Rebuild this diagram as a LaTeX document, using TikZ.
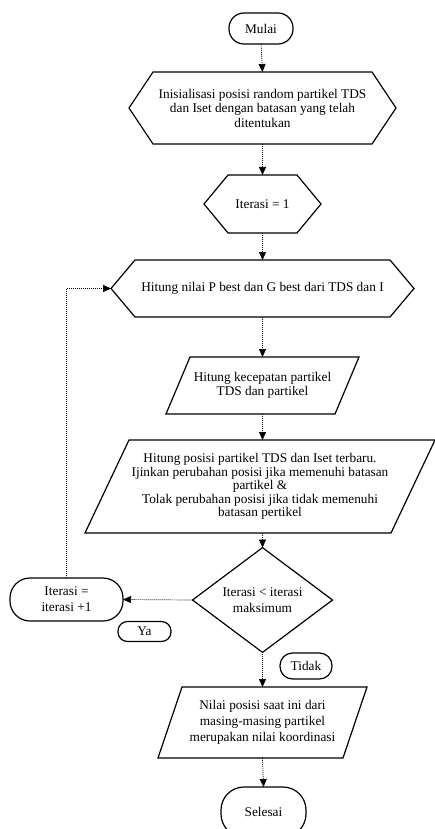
\documentclass[tikz,border=0pt]{standalone}
\usepackage{fontspec}
\setmainfont{Liberation Serif}
\usetikzlibrary{arrows.meta,shapes.geometric}
\begin{document}
\begin{tikzpicture}[x=1pt,y=1pt,
  txt/.style={inner sep=0pt, outer sep=0pt, align=center, font=\fontsize{13.3}{14.5}\selectfont},
  outl/.style={draw=black, line width=1.2pt, line join=miter},
  term/.style={txt, draw=black, line width=1.2pt, rounded corners=#1},
  conn/.style={draw=black, dash pattern=on 1pt off 1pt, line width=0.7pt, -{Triangle[length=8pt,width=7pt]}}]
\useasboundingbox (0,0) rectangle (435,-829);
\fill[white] (0,0) rectangle (435,-829);
\clip (0,0) rectangle (435,-829);

% terminals
\node[term=15pt, minimum width=64pt, minimum height=31pt] (start) at (261,-28.5) {Mulai};
\node[term=23pt, minimum width=85pt, minimum height=50pt] (stop) at (263.5,-812) {Selesai};
\node[term=20pt, minimum width=113pt, minimum height=43pt, font=\fontsize{13.3}{16}\selectfont] (iter) at (66.5,-599.5) {Iterasi =\\iterasi +1};
\node[term=9.5pt, minimum width=53pt, minimum height=20pt] (ya) at (144.5,-631.5) {Ya};
\node[term=12.5pt, minimum width=52pt, minimum height=26pt] (tidak) at (306,-666) {Tidak};

% hexagons
\node[txt, minimum width=267pt, minimum height=72pt] (init) at (262.5,-108)
  {Inisialisasi posisi random partikel TDS\\dan Iset dengan batasan yang telah\\ditentukan};
\draw[outl] (init.west) -- ([xshift=24pt]init.north west) -- ([xshift=-24pt]init.north east)
  -- (init.east) -- ([xshift=-24pt]init.south east) -- ([xshift=24pt]init.south west) -- cycle;

\node[txt, minimum width=117pt, minimum height=58pt] (it1) at (262.5,-204) {Iterasi = 1};
\draw[outl] (it1.west) -- ([xshift=24pt]it1.north west) -- ([xshift=-24pt]it1.north east)
  -- (it1.east) -- ([xshift=-24pt]it1.south east) -- ([xshift=24pt]it1.south west) -- cycle;

\node[txt, minimum width=303pt, minimum height=57pt] (best) at (262.5,-288.5)
  {Hitung nilai P best dan G best dari TDS dan I};
\draw[outl] (best.west) -- ([xshift=24pt]best.north west) -- ([xshift=-24pt]best.north east)
  -- (best.east) -- ([xshift=-24pt]best.south east) -- ([xshift=24pt]best.south west) -- cycle;

% parallelograms
\node[txt, minimum width=193pt, minimum height=57pt] (vel) at (262.5,-385.5)
  {Hitung kecepatan partikel\\TDS dan partikel};
\draw[outl] ([xshift=24pt]vel.north west) -- (vel.north east)
  -- ([xshift=-24pt]vel.south east) -- (vel.south west) -- cycle;

\node[txt, minimum width=350pt, minimum height=93pt, font=\fontsize{13.3}{13.6}\selectfont] (pos) at (260,-486.5)
  {Hitung posisi partikel TDS dan Iset terbaru.\\Ijinkan perubahan posisi jika memenuhi batasan\\partikel \&\\Tolak perubahan posisi jika tidak memenuhi\\batasan pertikel};
\draw[outl] ([xshift=44pt]pos.north west) -- (pos.north east)
  -- ([xshift=-44pt]pos.south east) -- (pos.south west) -- cycle;

\node[txt, minimum width=209pt, minimum height=71pt, font=\fontsize{13.3}{16}\selectfont] (res) at (262.5,-722.5)
  {Nilai posisi saat ini dari\\masing-masing partikel\\merupakan nilai koordinasi};
\draw[outl] ([xshift=24pt]res.north west) -- (res.north east)
  -- ([xshift=-24pt]res.south east) -- (res.south west) -- cycle;

% decision
\node[txt, diamond, draw=black, line width=1.2pt, minimum width=140pt, minimum height=80pt,
  font=\fontsize{13.3}{16}\selectfont] (dec) at (262.5,-600) {Iterasi < iterasi\\maksimum};

% connectors
\draw[conn] (start.south) -- (init.north);
\draw[conn] (init.south) -- (it1.north);
\draw[conn] (it1.south) -- (best.north);
\draw[conn] (best.south) -- (vel.north);
\draw[conn] (vel.south) -- (pos.north -| vel.south);
\draw[conn] (pos.south -| vel.south) -- (dec.north);
\draw[conn] (dec.west) -- (iter.east);
\draw[conn] (iter.north) |- (best.west);
\draw[conn] (dec.south) -- (res.north);
\draw[conn] (res.south) -- (stop.north);
\end{tikzpicture}
\end{document}
